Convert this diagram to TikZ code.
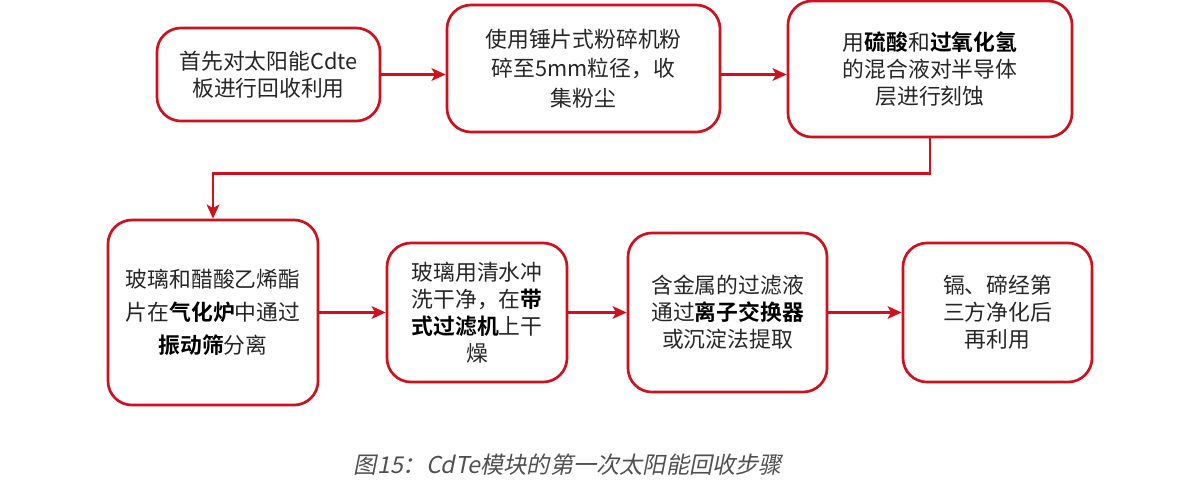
\documentclass[tikz,border=0pt]{standalone}
\usepackage{fontspec}
\newfontfamily\cjk[BoldFont={Noto Sans CJK SC Bold}]{Noto Sans CJK SC}
\newfontfamily\capfont[FakeSlant=0.2]{Noto Sans CJK SC}
\usetikzlibrary{arrows.meta}
\definecolor{boxred}{RGB}{208,16,28}
\definecolor{txtgray}{RGB}{38,38,38}
\definecolor{capgray}{RGB}{80,80,80}
\newcommand{\keyword}[1]{{\bfseries\color{black}#1}}

\begin{document}
\begin{tikzpicture}[x=0.025cm, y=-0.025cm,
	stepbox/.style={draw=boxred, line width=1.9pt, rounded corners=0.6cm, align=center, text=txtgray, inner sep=0pt, font=\cjk\fontsize{15.5}{19.2}\selectfont},
	flow/.style={draw=boxred, line width=1.7pt, -{Stealth[length=10pt, width=9pt, inset=2.5pt]}}]
	\useasboundingbox (0, 0) rectangle (1200, 482);

	\node[stepbox, minimum width=5.575cm, minimum height=2.325cm] (recycle) at (268.5, 74.5) {首先对太阳能Cdte\\板进行回收利用};
	\node[stepbox, minimum width=6.825cm, minimum height=3.175cm, font=\cjk\fontsize{15.5}{21}\selectfont] (crush) at (583.5, 68.5) {使用锤片式粉碎机粉\\碎至5mm粒径，收\\集粉尘};
	\node[stepbox, minimum width=7.1cm, minimum height=3.4cm] (etch) at (930, 69) {用\keyword{硫酸}和\keyword{过氧化氢}\\的混合液对半导体\\层进行刻蚀};

	\node[stepbox, minimum width=5.25cm, minimum height=4.625cm, font=\cjk\fontsize{15.5}{23.4}\selectfont] (separate) at (213, 312.5) {玻璃和醋酸乙烯酯\\片在\keyword{气化炉}中通过\\\keyword{振动筛}分离};
	\node[stepbox, minimum width=4.5cm, minimum height=3.475cm] (wash) at (477, 312.5) {玻璃用清水冲\\洗干净，在\keyword{带}\\\keyword{式过滤机}上干\\燥};
	\node[stepbox, minimum width=4.975cm, minimum height=3.975cm] (extract) at (727.5, 312.5) {含金属的过滤液\\通过\keyword{离子交换器}\\或沉淀法提取};
	\node[stepbox, minimum width=4.725cm, minimum height=3.475cm] (reuse) at (997.5, 312.5) {镉、碲经第\\三方净化后\\再利用};

	\draw[flow] (recycle.east) -- (recycle.east -| crush.west);
	\draw[flow] (recycle.east -| crush.east) -- (recycle.east -| etch.west);
	\draw[flow] (etch.south) -- ++(0, 35) -| (separate.north);
	\draw[flow] (separate) -- (wash);
	\draw[flow] (wash) -- (extract);
	\draw[flow] (extract) -- (reuse);

	\node[font=\capfont\fontsize{16.5}{16.5}\selectfont, text=capgray] (caption) at (568, 465) {图15：CdTe模块的第一次太阳能回收步骤};
\end{tikzpicture}
\end{document}
